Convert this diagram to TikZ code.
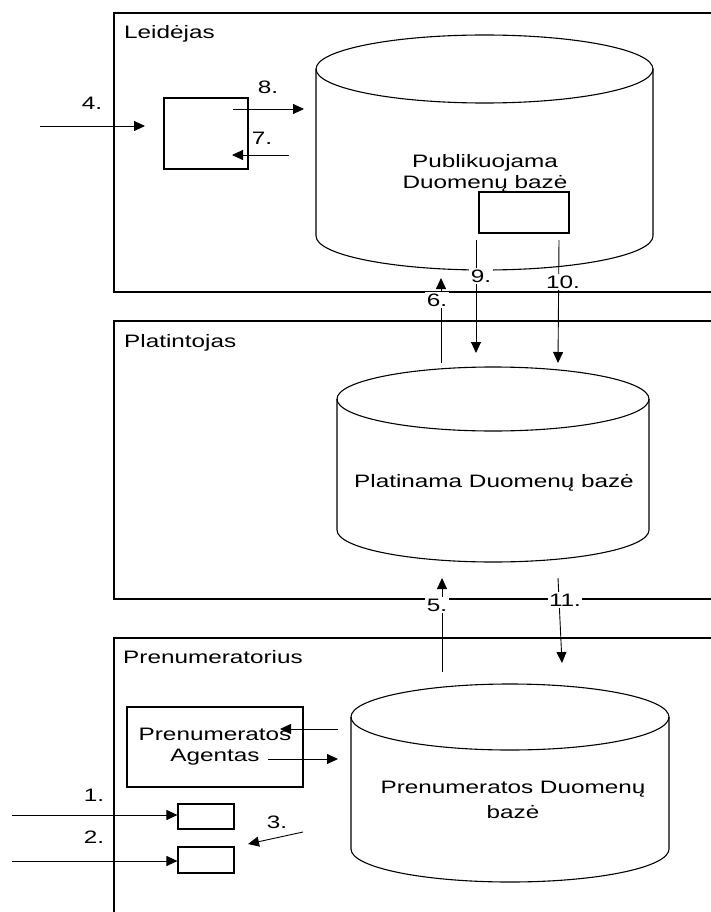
\documentclass[tikz,border=0pt]{standalone}
\usepackage{fontspec}
\setmainfont{Liberation Sans}[FakeStretch=1.35]
\usetikzlibrary{arrows.meta}

% cylinder: centre x, top ellipse y, bottom ellipse y, x radius, y radius
\newcommand\dbcylinder[5]{%
  \draw[shapeline] (#1,#2) ellipse [x radius=#4pt, y radius=#5pt];
  \draw[shapeline] ({#1-#4},#2) -- ({#1-#4},#3)
    arc[start angle=180, end angle=360, x radius=#4pt, y radius=#5pt]
    -- ({#1+#4},#2);}

\begin{document}
\begin{tikzpicture}[x=1pt, y=-1pt,
  frame/.style={line width=1.2pt},
  shapeline/.style={line width=1.1pt},
  flow/.style={line width=0.9pt, -{Triangle[length=11pt, width=10pt]}},
  box/.style={draw, line width=1.1pt, rectangle, inner sep=0pt},
  txt/.style={font=\fontsize{18}{21}\selectfont},
  tag/.style={txt, fill=white, inner sep=1.5pt},
  title/.style={txt, anchor=base west, inner sep=0pt},
  dbtext/.style={txt, align=center, inner sep=0pt}]

\useasboundingbox (0,0) rectangle (711,912);
\clip (0,0) rectangle (711,912);

% ---------------- Leidėjas ----------------
\draw[frame] (114,13) rectangle (740,292);
\node[title] (leidejas) at (124,39) {Leidėjas};
\dbcylinder{484.5}{69}{236}{168.5}{34}
\node[dbtext] (pubdb) at (485,173) {Publikuojama\\Duomenų bazė};
\node[box, minimum width=84pt, minimum height=71pt] (editor) at (206,133.5) {};
\node[box, minimum width=90pt, minimum height=41pt] (pubbox) at (524,212.5) {};

\coordinate (in4) at (40,126);   \coordinate (to4) at (145,126);
\coordinate (out8) at (233,109); \coordinate (to8) at (304,109);
\coordinate (out7) at (289,155); \coordinate (to7) at (232,155);
\draw[flow] (in4) -- (to4);
\draw[flow] (out8) -- (to8);
\draw[flow] (out7) -- (to7);
\node[tag] (l4) at (92,103) {4.};
\node[tag] (l8) at (268,87) {8.};
\node[tag] (l7) at (262,138) {7.};

% ---------------- Platintojas ----------------
\draw[frame] (114,321) rectangle (740,599);
\node[title] (platintojas) at (124,347) {Platintojas};
\dbcylinder{493}{399}{530}{156}{32}
\node[txt, anchor=base, inner sep=0pt] (distdb) at (494,487) {Platinama Duomenų bazė};

% flows between Leidėjas and Platintojas
\coordinate (s9) at (476,240);  \coordinate (e9) at (476,353);
\coordinate (s10) at (559,240); \coordinate (e10) at (558,363);
\coordinate (s6) at (441,363);  \coordinate (e6) at (441,278);
\draw[flow] (s9) -- (e9);
\draw[flow] (s10) -- (e10);
\draw[flow] (s6) -- (e6);
\node[tag] (l9) at (481,276) {9.};
\node[tag] (l10) at (563,282) {10.};
\node[tag] (l6) at (437,300) {6.};

% ---------------- Prenumeratorius ----------------
\draw[frame] (114,638) rectangle (740,940);
\node[title] (prenumeratorius) at (123,663) {Prenumeratorius};
\dbcylinder{510}{717}{849}{159}{33}
\node[dbtext] (subdb) at (513,800) {Prenumeratos Duomenų\\[4pt]bazė};
\node[box, minimum width=176pt, minimum height=80pt, align=center, txt]
  (agent) at (215,747) {Prenumeratos\\Agentas};
\node[box, minimum width=56pt, minimum height=25pt] (req1) at (206,816.5) {};
\node[box, minimum width=56pt, minimum height=26pt] (req2) at (206,860) {};

% flows between Platintojas and Prenumeratorius
\coordinate (s5) at (442,672);  \coordinate (e5) at (442,578);
\coordinate (s11) at (558,578); \coordinate (e11) at (562,663);
\draw[flow] (s5) -- (e5);
\draw[flow] (s11) -- (e11);
\node[tag] (l5) at (437,605) {5.};
\node[tag] (l11) at (565,600) {11.};

% flows inside Prenumeratorius
\coordinate (dbout) at (338,729); \coordinate (agin) at (280,729);
\coordinate (agout) at (268,759); \coordinate (dbin) at (338,759);
\draw[flow] (dbout) -- (agin);
\draw[flow] (agout) -- (dbin);
\coordinate (in1) at (12,815);
\coordinate (in2) at (12,861);
\draw[flow] (in1) -- (in1 -| req1.west);
\draw[flow] (in2) -- (in2 -| req2.west);
\coordinate (s3) at (303,832); \coordinate (e3) at (248,844);
\draw[flow] (s3) -- (e3);
\node[tag] (l1) at (94,795) {1.};
\node[tag] (l2) at (94,837) {2.};
\node[tag] (l3) at (277,822) {3.};

\end{tikzpicture}
\end{document}
